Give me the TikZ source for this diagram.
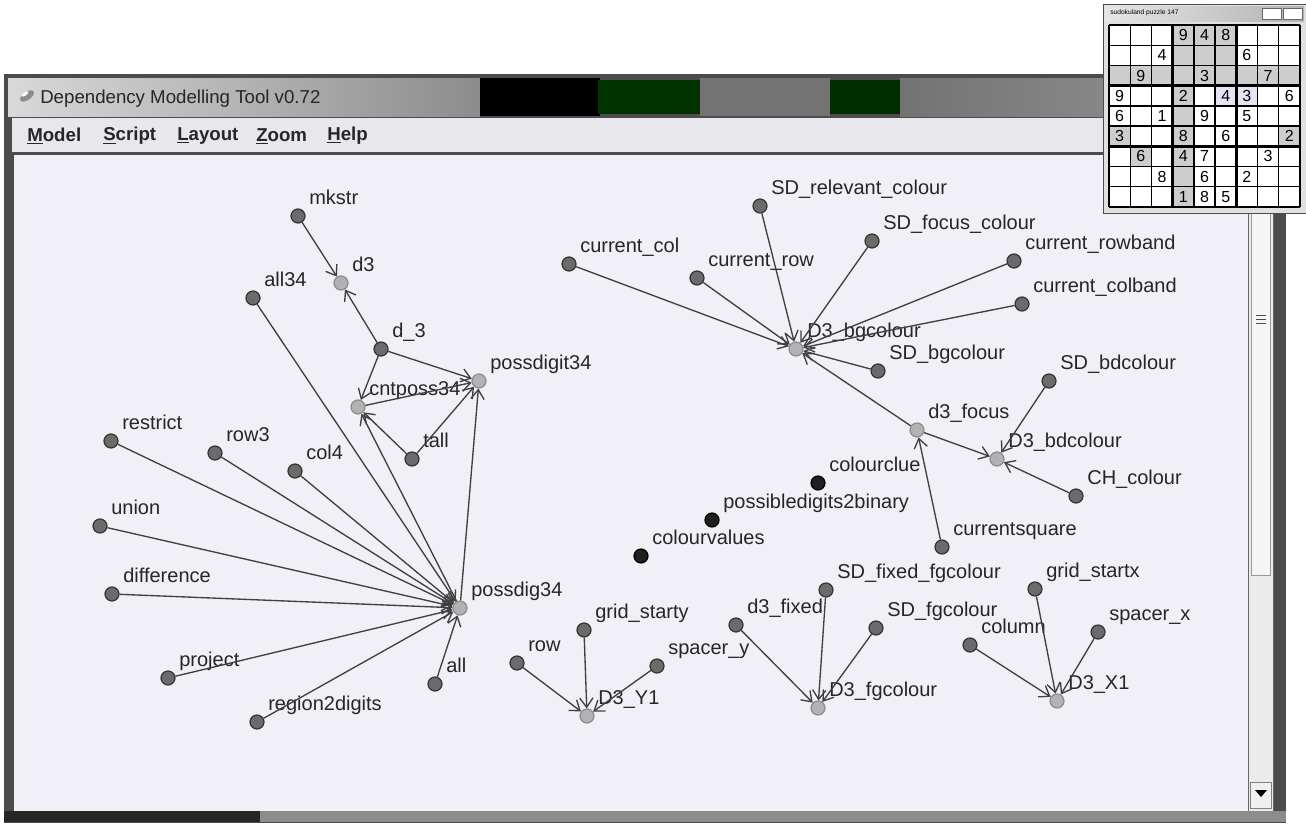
\documentclass[tikz,border=0pt]{standalone}
\usepackage{fontspec}
\setmainfont{Liberation Sans}
\usetikzlibrary{arrows.meta,positioning}

\definecolor{canvas}{RGB}{240,240,246}
\definecolor{menubg}{RGB}{232,232,236}
\definecolor{cellgray}{RGB}{205,205,205}
\definecolor{cellblue}{RGB}{228,228,245}

\begin{document}
\begin{tikzpicture}[x=0.75pt,y=-0.75pt,
    vertex/.style={circle,draw=black!80,line width=0.9pt,fill=black!58,inner sep=0pt,minimum size=10.5pt},
    target/.style={vertex,draw=black!45,fill=black!30},
    lone/.style={vertex,draw=black,fill=black!88},
    lbl/.style={font=\fontsize{15}{18}\selectfont,text=black!85,anchor=base west,inner sep=0pt,label distance=6pt},
    dep/.style={-{Straight Barb[length=7pt,width=10pt]},draw=black!75,line width=1pt},
    menu/.style={font=\bfseries\fontsize{14}{16}\selectfont,text=black!85,anchor=west,inner sep=0pt},
    digit/.style={font=\fontsize{12}{14}\selectfont,inner sep=0pt}]

    \useasboundingbox (0,0) rectangle (1306,828);
    \fill[white] (0,0) rectangle (1306,828);

    % Main window frame and title bar
    \fill[black!70] (4,74) rectangle (1286,823);
    \shade[left color=black!15,right color=black!45] (8,78) rectangle (480,116);
    \fill[black] (480,78) rectangle (600,116);
    \fill[green!20!black] (598,80) rectangle (700,114);
    \fill[black!55] (700,78) rectangle (830,116);
    \fill[green!18!black] (830,80) rectangle (900,114);
    \shade[left color=black!55,right color=black!40] (900,78) rectangle (1284,116);
    \fill[black!45,rotate around={35:(27,96)}] (27,96) ellipse (8 and 4);
    \fill[white,rotate around={35:(25,94)}] (25,94) ellipse (4 and 1.6);
    \node[font=\fontsize{14}{16}\selectfont,text=black!85,anchor=west,inner sep=0pt] (title) at (40,99) {Dependency Modelling Tool v0.72};

    % Menu bar
    \fill[menubg] (12,118) rectangle (1280,153);
    \draw[black!70,line width=1pt] (12,153) -- (1280,153);
    \node[menu] (mModel) at (27,136) {\underline{M}odel};
    \node[menu] (mScript) at (103,136) {\underline{S}cript};
    \node[menu] (mLayout) at (177,136) {\underline{L}ayout};
    \node[menu] (mZoom) at (256,136) {\underline{Z}oom};
    \node[menu] (mHelp) at (327,136) {\underline{H}elp};

    % Canvas and scroll bar
    \fill[canvas] (14,155) rectangle (1248,811);
    \fill[black!8] (1248,155) rectangle (1273,811);
    \draw[black!60] (1248,155) -- (1248,811);
    \draw[black!60] (1273,155) -- (1273,811);
    \draw[black!40,fill=black!4] (1251,160) rectangle (1270,575);
    \foreach \g in {315,319,323}
        \draw[black!70] (1256,\g) -- (1266,\g);
    \draw[black!50,fill=black!6] (1250,782) rectangle (1271,808);
    \fill[black] (1255,790) -- (1267,790) -- (1261,797) -- cycle;
    \fill[black!85] (4,811) rectangle (260,822);
    \fill[black!45] (260,811) rectangle (1286,822);

    % Left cluster
    \node[vertex,label={[lbl]45:mkstr}] (mkstr) at (298,216) {};
    \node[target,label={[lbl]45:d3}] (d3) at (341,283) {};
    \node[vertex,label={[lbl]45:all34}] (all34) at (253,298) {};
    \node[vertex,label={[lbl]45:d\_3}] (dus) at (381,349) {};
    \node[target,label={[lbl]45:possdigit34}] (possdigit) at (479,381) {};
    \node[target,label={[lbl]45:cntposs34}] (cntposs) at (358,407) {};
    \node[vertex,label={[lbl]45:tall}] (tall) at (412,459) {};
    \node[vertex,label={[lbl]45:restrict}] (restrict) at (111,441) {};
    \node[vertex,label={[lbl]45:row3}] (row3) at (215,453) {};
    \node[vertex,label={[lbl]45:col4}] (col4) at (295,471) {};
    \node[vertex,label={[lbl]45:union}] (union) at (100,526) {};
    \node[vertex,label={[lbl]45:difference}] (difference) at (112,594) {};
    \node[vertex,label={[lbl]45:project}] (project) at (168,678) {};
    \node[vertex,label={[lbl]45:region2digits}] (region) at (257,722) {};
    \node[vertex,label={[lbl]45:all}] (all) at (435,684) {};
    \node[target,label={[lbl]45:possdig34}] (possdig) at (460,608) {};

    \draw[dep] (mkstr) -- (d3);
    \draw[dep] (dus) -- (d3);
    \draw[dep] (dus) -- (possdigit);
    \draw[dep] (dus) -- (cntposs);
    \draw[dep] (cntposs) -- (possdigit);
    \draw[dep] (tall) -- (possdigit);
    \draw[dep] (tall) -- (cntposs);
    \draw[dep] (possdig) -- (possdigit);
    \draw[dep] (possdig) -- (cntposs);
    \foreach \s in {all34,restrict,row3,col4,union,difference,project,region,all}
        \draw[dep] (\s) -- (possdig);

    % Colour cluster
    \node[vertex,label={[lbl]45:SD\_relevant\_colour}] (sdrel) at (760,206) {};
    \node[vertex,label={[lbl]45:SD\_focus\_colour}] (sdfocus) at (872,241) {};
    \node[vertex,label={[lbl]45:current\_col}] (currcol) at (569,264) {};
    \node[vertex,label={[lbl]45:current\_row}] (currrow) at (697,278) {};
    \node[vertex,label={[lbl]45:current\_rowband}] (currrowband) at (1014,261) {};
    \node[vertex,label={[lbl]45:current\_colband}] (currcolband) at (1022,304) {};
    \node[target,label={[lbl]45:D3\_bgcolour}] (dbg) at (796,349) {};
    \node[vertex,label={[lbl]45:SD\_bgcolour}] (sdbg) at (878,371) {};
    \node[vertex,label={[lbl]45:SD\_bdcolour}] (sdbd) at (1049,381) {};
    \node[target,label={[lbl]45:d3\_focus}] (dfocus) at (917,430) {};
    \node[target,label={[lbl]45:D3\_bdcolour}] (dbd) at (997,459) {};
    \node[vertex,label={[lbl]45:CH\_colour}] (chcol) at (1076,496) {};
    \node[vertex,label={[lbl]45:currentsquare}] (currsq) at (942,547) {};
    \node[lone,label={[lbl]45:colourclue}] (colourclue) at (818,483) {};
    \node[lone,label={[lbl]45:possibledigits2binary}] (pdbin) at (712,520) {};
    \node[lone,label={[lbl]45:colourvalues}] (colourvalues) at (641,556) {};

    \foreach \s in {currcol,currrow,sdrel,sdfocus,currrowband,currcolband,sdbg,dfocus}
        \draw[dep] (\s) -- (dbg);
    \foreach \s in {dfocus,sdbd,chcol}
        \draw[dep] (\s) -- (dbd);
    \draw[dep] (currsq) -- (dfocus);

    % Bottom clusters
    \node[vertex,label={[lbl]45:grid\_starty}] (gridsy) at (584,630) {};
    \node[vertex,label={[lbl]45:row}] (row) at (517,663) {};
    \node[vertex,label={[lbl]45:spacer\_y}] (spacery) at (657,666) {};
    \node[target,label={[lbl]45:D3\_Y1}] (dy) at (587,716) {};
    \node[vertex,label={[lbl]45:d3\_fixed}] (dfixed) at (736,625) {};
    \node[vertex,label={[lbl]45:SD\_fixed\_fgcolour}] (sdfixed) at (826,590) {};
    \node[vertex,label={[lbl]45:SD\_fgcolour}] (sdfg) at (876,628) {};
    \node[target,label={[lbl]45:D3\_fgcolour}] (dfg) at (818,708) {};
    \node[vertex,label={[lbl]45:grid\_startx}] (gridsx) at (1035,589) {};
    \node[vertex,label={[lbl]45:spacer\_x}] (spacerx) at (1098,632) {};
    \node[vertex,label={[lbl]45:column}] (column) at (970,645) {};
    \node[target,label={[lbl]45:D3\_X1}] (dx) at (1057,701) {};

    \foreach \s in {row,gridsy,spacery}
        \draw[dep] (\s) -- (dy);
    \foreach \s in {dfixed,sdfixed,sdfg}
        \draw[dep] (\s) -- (dfg);
    \foreach \s in {column,gridsx,spacerx}
        \draw[dep] (\s) -- (dx);

    % Sudoku window
    \draw[black!70,fill=black!12] (1103,4) rectangle (1306,213);
    \shade[left color=black!10,right color=black!30] (1105,6) rectangle (1304,21);
    \node[font=\fontsize{5}{6}\selectfont,anchor=west,inner sep=0pt] (sudtitle) at (1110,13) {sudokuland puzzle 147};
    \draw[black!60,fill=white] (1262,8) rectangle (1281,19);
    \draw[black!60,fill=white] (1283,8) rectangle (1302,19);
    \fill[white] (1109,25) rectangle (1300,207);
    \foreach \r/\c in {1/4,1/5,1/6,2/4,2/5,2/6,3/1,3/2,3/3,3/4,3/5,3/6,3/7,3/8,3/9,
                       4/4,5/4,6/4,7/4,8/4,9/4,6/1,6/9,7/2}
        \fill[cellgray] ({1109+(\c-1)*21.22},{25+(\r-1)*20.22}) rectangle +(21.22,20.22);
    \foreach \c in {6,7}
        \fill[cellblue] ({1109+(\c-1)*21.22},{25+3*20.22}) rectangle +(21.22,20.22);
    \foreach \i in {0,...,9} {
        \draw[black,line width=1pt] ({1109+\i*21.22},25) -- ({1109+\i*21.22},207);
        \draw[black,line width=1pt] (1109,{25+\i*20.22}) -- (1300,{25+\i*20.22});
    }
    \foreach \i in {0,3,6,9} {
        \draw[black,line width=1.8pt] ({1109+\i*21.22},25) -- ({1109+\i*21.22},207);
        \draw[black,line width=1.8pt] (1109,{25+\i*20.22}) -- (1300,{25+\i*20.22});
    }
    \foreach \r/\c/\d in {1/4/9,1/5/4,1/6/8,2/3/4,2/7/6,3/2/9,3/5/3,3/8/7,
                          4/1/9,4/4/2,4/6/4,4/7/3,4/9/6,5/1/6,5/3/1,5/5/9,5/7/5,
                          6/1/3,6/4/8,6/6/6,6/9/2,7/2/6,7/4/4,7/5/7,7/8/3,
                          8/3/8,8/5/6,8/7/2,9/4/1,9/5/8,9/6/5}
        \node[digit] at ({1109+(\c-0.5)*21.22},{25+(\r-0.5)*20.22}) {\d};

\end{tikzpicture}
\end{document}
